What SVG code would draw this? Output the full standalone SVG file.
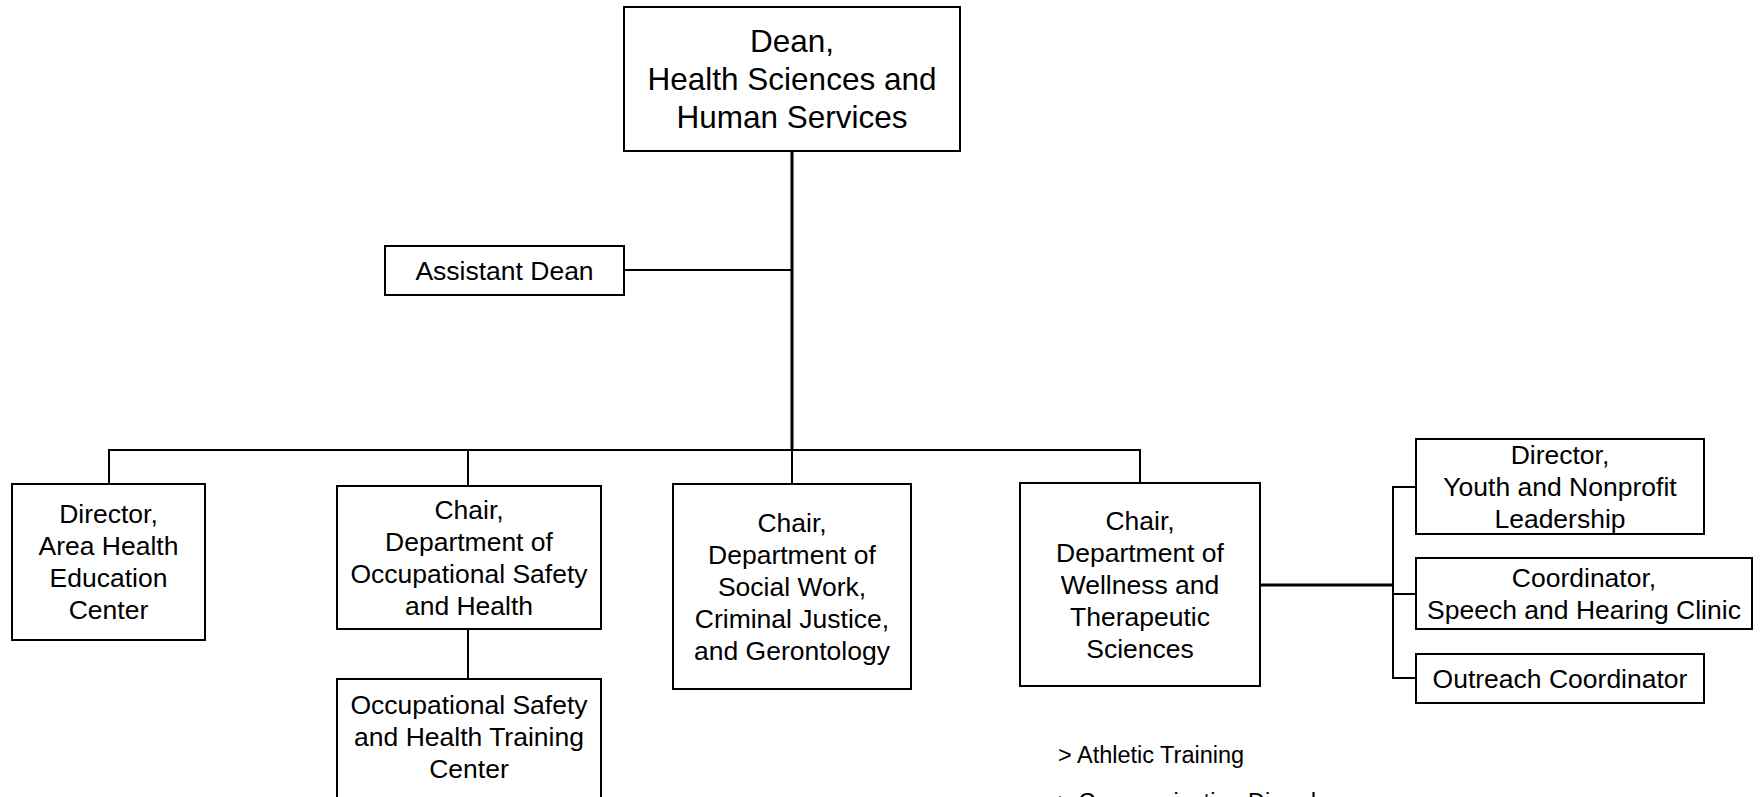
<svg xmlns="http://www.w3.org/2000/svg" width="1764" height="797" viewBox="0 0 1764 797">
<style>
.box{fill:#fff;stroke:#000;stroke-width:2}
.t{font-family:"Liberation Sans",Arial,sans-serif;font-size:26.5px;fill:#000;text-anchor:middle}
.big{font-size:31.5px}
.note{font-family:"Liberation Sans",Arial,sans-serif;font-size:23.5px;fill:#000}
.ln{fill:none;stroke:#000;stroke-width:2}
.thk{fill:none;stroke:#000;stroke-width:3}
</style>
<rect width="1764" height="797" fill="#fff"/>
<g id="connectors">
<line class="thk" x1="792" y1="151" x2="792" y2="450"/>
<line class="ln" x1="624" y1="270" x2="792" y2="270"/>
<polyline class="ln" points="109,484 109,450 1140,450 1140,483"/>
<line class="ln" x1="468" y1="450" x2="468" y2="486"/>
<line class="ln" x1="792" y1="450" x2="792" y2="484"/>
<line class="ln" x1="468" y1="629" x2="468" y2="679"/>
<line class="thk" x1="1260" y1="585" x2="1393" y2="585"/>
<polyline class="ln" points="1416,487 1393,487 1393,678 1416,678"/>
<line class="ln" x1="1393" y1="594" x2="1416" y2="594"/>
</g>
<g id="dean">
<rect class="box" x="624" y="7" width="336" height="144"/>
<text class="t big" x="792" y="52">Dean,</text>
<text class="t big" x="792" y="90">Health Sciences and</text>
<text class="t big" x="792" y="128">Human Services</text>
</g>
<g id="assistant-dean">
<rect class="box" x="385" y="246" width="239" height="49"/>
<text class="t" x="504.5" y="280">Assistant Dean</text>
</g>
<g id="director-ahec">
<rect class="box" x="12" y="484" width="193" height="156"/>
<text class="t" x="108.5" y="523">Director,</text>
<text class="t" x="108.5" y="555">Area Health</text>
<text class="t" x="108.5" y="587">Education</text>
<text class="t" x="108.5" y="619">Center</text>
</g>
<g id="chair-osh">
<rect class="box" x="337" y="486" width="264" height="143"/>
<text class="t" x="469" y="519">Chair,</text>
<text class="t" x="469" y="551">Department of</text>
<text class="t" x="469" y="583">Occupational Safety</text>
<text class="t" x="469" y="615">and Health</text>
</g>
<g id="osh-training">
<rect class="box" x="337" y="679" width="264" height="140"/>
<text class="t" x="469" y="714">Occupational Safety</text>
<text class="t" x="469" y="746">and Health Training</text>
<text class="t" x="469" y="778">Center</text>
</g>
<g id="chair-sw">
<rect class="box" x="673" y="484" width="238" height="205"/>
<text class="t" x="792" y="532">Chair,</text>
<text class="t" x="792" y="564">Department of</text>
<text class="t" x="792" y="596">Social Work,</text>
<text class="t" x="792" y="628">Criminal Justice,</text>
<text class="t" x="792" y="660">and Gerontology</text>
</g>
<g id="chair-wellness">
<rect class="box" x="1020" y="483" width="240" height="203"/>
<text class="t" x="1140" y="530">Chair,</text>
<text class="t" x="1140" y="562">Department of</text>
<text class="t" x="1140" y="594">Wellness and</text>
<text class="t" x="1140" y="626">Therapeutic</text>
<text class="t" x="1140" y="658">Sciences</text>
</g>
<g id="director-ynl">
<rect class="box" x="1416" y="439" width="288" height="95"/>
<text class="t" x="1560" y="464">Director,</text>
<text class="t" x="1560" y="496">Youth and Nonprofit</text>
<text class="t" x="1560" y="528">Leadership</text>
</g>
<g id="coordinator-shc">
<rect class="box" x="1416" y="558" width="336" height="71"/>
<text class="t" x="1584" y="587">Coordinator,</text>
<text class="t" x="1584" y="619">Speech and Hearing Clinic</text>
</g>
<g id="outreach">
<rect class="box" x="1416" y="654" width="288" height="49"/>
<text class="t" x="1560" y="688">Outreach Coordinator</text>
</g>
<g id="programs">
<text class="note" x="1058" y="763">&gt; Athletic Training</text>
<text class="note" x="1058" y="810">&gt; Communication Disorders</text>
</g>
</svg>
